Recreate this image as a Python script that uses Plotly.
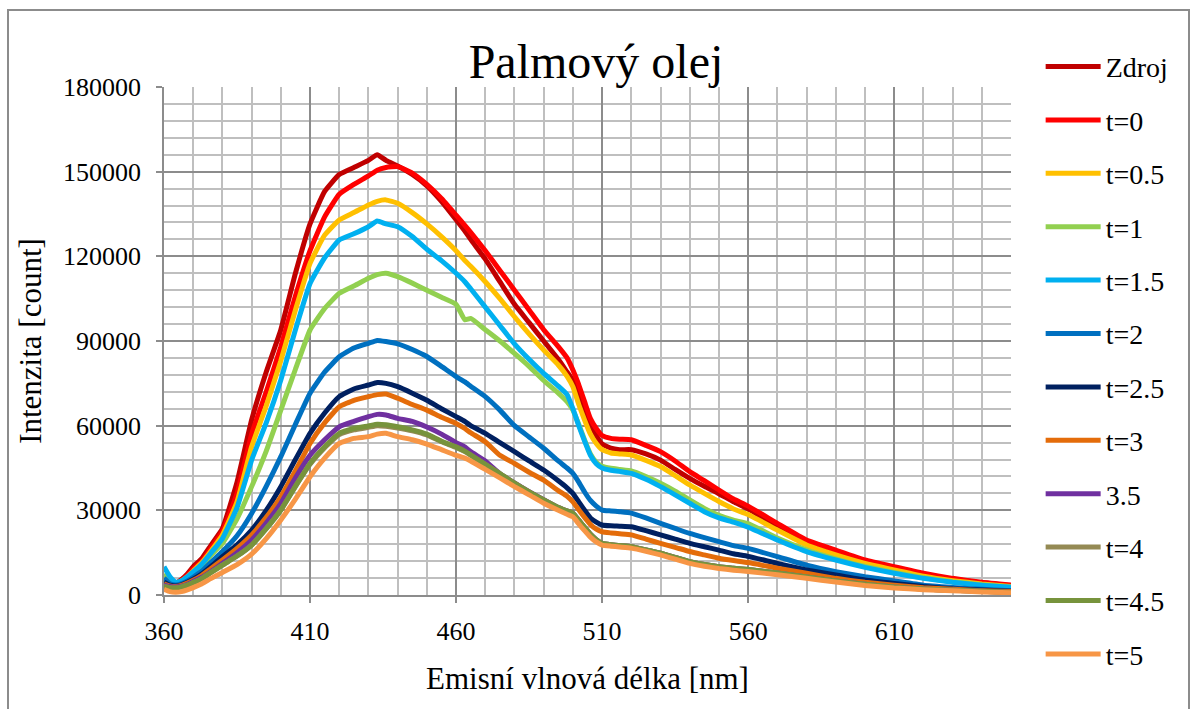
import plotly.graph_objects as go

# Emission wavelengths [nm]
wavelength = [360, 362, 364, 366, 368, 370, 373, 376, 380, 385, 390, 395, 400, 405, 410, 415,
              420, 425, 430, 433, 436, 440, 445, 450, 455, 460, 463, 465, 470, 475, 480, 485,
              490, 495, 498, 500, 502, 504, 506, 508, 510, 513, 516, 520, 525, 530, 535, 540,
              545, 550, 555, 560, 570, 580, 590, 600, 610, 620, 630, 640, 650]

zdroj = [5500, 4500, 4000, 5500, 7500, 10000, 13000, 17500, 23500, 40000, 62000, 79000, 94000, 114000, 131500, 143000,
         149000, 151500, 154000, 156000, 154000, 152000, 149000, 145000, 139500, 133000, 129000, 126000, 119000, 111000, 103000, 96500,
         90000, 83500, 79000, 76000, 71000, 65500, 60500, 56500, 53500, 52000, 51500, 51500, 50000, 47800, 44500, 41300,
         38500, 35900, 33000, 30500, 24200, 18700, 15200, 11900, 9500, 7300, 5600, 4300, 3300]

t_0 = [6000, 4500, 4200, 5200, 7000, 9200, 12000, 16500, 22500, 36000, 57000, 72000, 88000, 106000, 122000, 134000,
       142000, 145500, 148500, 150500, 151500, 151800, 149500, 145500, 140500, 134600, 131000, 128500, 122000, 115000, 108000, 101000,
       94000, 88000, 84000, 79700, 74500, 68500, 62500, 59000, 56500, 55500, 55200, 55000, 53000, 50800, 47500, 43700,
       40500, 37200, 34000, 31500, 25400, 19500, 15900, 12400, 10000, 7700, 5900, 4500, 3500]

t_05 = [5000, 4300, 4000, 5000, 6500, 8500, 11500, 15500, 21300, 33000, 52500, 67000, 83000, 101000, 117500, 127500,
        132900, 135500, 138200, 139500, 140000, 138800, 135500, 131500, 127000, 122000, 118500, 116500, 111000, 105000, 98600, 92500,
        86800, 81500, 77500, 73800, 67500, 62000, 57000, 53700, 51500, 50300, 50000, 49600, 47700, 45500, 42300, 39000,
        36000, 33100, 30500, 28500, 23000, 17700, 14200, 11200, 8900, 6700, 5100, 3900, 3000]

t_1 = [7500, 5000, 4000, 4800, 6000, 7800, 10500, 14000, 18300, 27000, 38400, 51000, 65500, 80000, 93900, 101500,
       106900, 109500, 112200, 113500, 114000, 112800, 110500, 108000, 105500, 103000, 97500, 98000, 94000, 90000, 85600, 81000,
       76000, 71500, 68500, 65500, 60500, 55000, 50000, 47000, 45600, 44900, 44500, 44000, 42000, 39600, 36800, 33700,
       30700, 28200, 26500, 25300, 20200, 16000, 12800, 10100, 8000, 6100, 4700, 3600, 2800]

t_15 = [10000, 6500, 4500, 5000, 6500, 8200, 11000, 14800, 20000, 31000, 47800, 61000, 76200, 94000, 110400, 119500,
        125800, 128000, 130500, 132500, 131500, 130500, 127000, 122500, 118500, 114000, 111000, 108500, 102000, 95500, 89000, 83500,
        78500, 74000, 71000, 66000, 60000, 54500, 49500, 46500, 45000, 44200, 43800, 43100, 41000, 38400, 35500, 32500,
        29500, 27300, 25800, 24000, 19500, 15400, 12400, 9800, 7700, 5900, 4500, 3500, 2700]

t_2 = [6000, 4000, 3500, 4000, 5000, 6300, 8500, 11500, 15400, 21000, 28900, 38500, 49000, 60500, 71500, 79000,
       84400, 87500, 89200, 90200, 89800, 89000, 87000, 84500, 81000, 77400, 75500, 74000, 70300, 65500, 60000, 56000,
       52000, 47500, 45000, 43100, 40000, 36500, 33500, 31500, 30100, 29800, 29500, 29000, 27300, 25400, 23600, 21800,
       20300, 18900, 17500, 16500, 13600, 10600, 8300, 6500, 5000, 3500, 2700, 2000, 1500]

t_25 = [4500, 3500, 3200, 3600, 4500, 5600, 7500, 10000, 13600, 17800, 23000, 30000, 38400, 48000, 57300, 64500,
        70300, 73000, 74400, 75300, 75000, 73800, 71500, 69000, 66000, 63200, 61500, 60000, 57300, 54000, 50800, 47500,
        44300, 40500, 38000, 36000, 33000, 30000, 27300, 25800, 24800, 24500, 24400, 24200, 22800, 21300, 19800, 18300,
        17100, 15900, 14600, 13700, 11200, 8900, 7100, 5300, 4100, 3000, 2200, 1800, 1300]

t_3 = [4000, 3200, 3000, 3400, 4200, 5200, 7000, 9300, 12400, 16500, 21300, 27500, 34800, 44000, 53700, 61000,
       66700, 69000, 70300, 71000, 71200, 69700, 67500, 65500, 63000, 60800, 59000, 57500, 54300, 49500, 46600, 43500,
       40700, 37000, 35000, 33000, 30200, 27500, 25000, 23300, 22400, 22000, 21700, 21300, 19800, 18300, 16900, 15400,
       14200, 13000, 12200, 11500, 9500, 7700, 5900, 4500, 3500, 2600, 2000, 1500, 1200]

t_35 = [3500, 3000, 2800, 3100, 3800, 4800, 6300, 8300, 11200, 15000, 19500, 25500, 32500, 41500, 49500, 55000,
        59600, 61500, 63200, 64000, 63800, 62600, 61500, 59500, 57000, 54000, 52500, 50800, 47500, 43000, 39700, 36600,
        33800, 31000, 29800, 29000, 26500, 24000, 21500, 19600, 18300, 17800, 17500, 17100, 16000, 14800, 13300, 11800,
        10800, 10000, 9500, 9000, 7800, 6400, 5000, 3800, 2800, 2100, 1700, 1300, 900]

t_4 = [3000, 2600, 2500, 2900, 3500, 4400, 5900, 7900, 10600, 13800, 17700, 23500, 30100, 38500, 46300, 52200,
       56800, 58500, 59400, 60000, 59800, 59200, 58200, 56700, 54300, 52300, 50800, 49500, 46300, 43000, 39600, 36500,
       33700, 31000, 29800, 29000, 26500, 24000, 21500, 19600, 18300, 17800, 17500, 17100, 16000, 14800, 13300, 11800,
       10800, 10000, 9500, 9000, 7800, 6400, 5000, 3800, 2800, 2100, 1700, 1300, 900]

t_45 = [3000, 2600, 2500, 2900, 3500, 4400, 5900, 7900, 10600, 13800, 17700, 23500, 30100, 38500, 46600, 52500,
        57300, 59000, 59900, 60500, 60300, 59600, 58500, 57000, 54500, 52500, 51000, 49700, 46300, 43000, 39600, 36500,
        33700, 31000, 29800, 29000, 26500, 24000, 21500, 19600, 18300, 17800, 17500, 17100, 16000, 14800, 13300, 11800,
        10800, 10000, 9500, 9000, 7800, 6400, 5000, 3800, 2800, 2100, 1700, 1300, 900]

t_5 = [2000, 1200, 1000, 1200, 1800, 2600, 4000, 5800, 8000, 10800, 14500, 20000, 26600, 34000, 41900, 48500,
       53700, 55500, 56100, 57000, 57300, 56100, 55000, 53500, 51500, 49500, 48500, 47500, 44500, 41500, 38400, 35500,
       32500, 30000, 28600, 27700, 25200, 22800, 20500, 18800, 17700, 17300, 17000, 16600, 15500, 14200, 12700, 11200,
       10200, 9400, 8800, 8300, 7200, 5900, 4600, 3400, 2500, 1900, 1500, 1100, 800]

series_names = ["Zdroj", "t=0", "t=0.5", "t=1", "t=1.5", "t=2", "t=2.5", "t=3", "3.5", "t=4", "t=4.5", "t=5"]
series_values = [zdroj, t_0, t_05, t_1, t_15, t_2, t_25, t_3, t_35, t_4, t_45, t_5]
series_colors = ["#C00000", "#FF0000", "#FFC000", "#92D050", "#00B0F0", "#0070C0",
                 "#002060", "#E46C0A", "#7030A0", "#948A54", "#77933C", "#F79646"]

y_ticks = [0, 30000, 60000, 90000, 120000, 150000, 180000]
x_ticks = [360, 410, 460, 510, 560, 610]

FONT = "Liberation Serif, Times New Roman, serif"

fig = go.Figure()
for name, vals, color in zip(series_names, series_values, series_colors):
    fig.add_trace(go.Scatter(
        x=wavelength, y=vals, name=name, mode="lines",
        line=dict(color=color, width=5, shape="spline", smoothing=0.4),
        legendgroup=name,
    ))

W, H = 1192, 709
L, R, T, B = 164, 181, 87, 114

fig.update_layout(
    width=W, height=H,
    margin=dict(l=L, r=R, t=T, b=B),
    paper_bgcolor="white", plot_bgcolor="white",
    font=dict(family=FONT, color="black", size=26),
    title=dict(text="Palmový olej", x=0.5, xref="container", xanchor="center",
               y=1 - 61 / H, yref="container", yanchor="middle",
               font=dict(family=FONT, size=48, color="black")),
    showlegend=True,
    legend=dict(x=1.035, xanchor="left", y=1.089, yanchor="top",
                font=dict(family=FONT, size=28, color="black"),
                tracegroupgap=14, bgcolor="rgba(0,0,0,0)", itemwidth=55,
                maxheight=700),
    xaxis=dict(
        range=[360, 650], tickmode="array", tickvals=x_ticks, ticktext=[str(v) for v in x_ticks],
        showgrid=True, gridcolor="#8c8c8c", gridwidth=1.5,
        minor=dict(dtick=10, tick0=360, showgrid=True, gridcolor="#bfbfbf", gridwidth=2),
        showline=True, linecolor="#8c8c8c", linewidth=1.5,
        ticks="outside", ticklen=6, tickcolor="#8c8c8c", tickwidth=1.5,
        ticklabelstandoff=6,
        zeroline=False,
        title=dict(text="Emisní vlnová délka [nm]", font=dict(family=FONT, size=31), standoff=22),
    ),
    yaxis=dict(
        range=[0, 180000], tickmode="array", tickvals=y_ticks, ticktext=[str(v) for v in y_ticks],
        showgrid=True, gridcolor="#8c8c8c", gridwidth=1.5,
        minor=dict(dtick=6000, tick0=0, showgrid=True, gridcolor="#bfbfbf", gridwidth=2),
        showline=True, linecolor="#8c8c8c", linewidth=1.5,
        ticks="outside", ticklen=6, tickcolor="#8c8c8c", tickwidth=1.5,
        ticklabelstandoff=10,
        zeroline=False,
        title=dict(text="Intenzita [count]", font=dict(family=FONT, size=31), standoff=12),
    ),
)

# Outer chart frame
pw, ph = W - L - R, H - T - B
fig.add_shape(type="rect", xref="paper", yref="paper", layer="below",
              x0=(8 - L) / pw, x1=(1189 - L) / pw,
              y0=-(H + 20 - T - ph) / ph, y1=1 + (T - 10) / ph,
              line=dict(color="#8c8c8c", width=2), fillcolor="rgba(0,0,0,0)")

fig.write_html("out.html")
